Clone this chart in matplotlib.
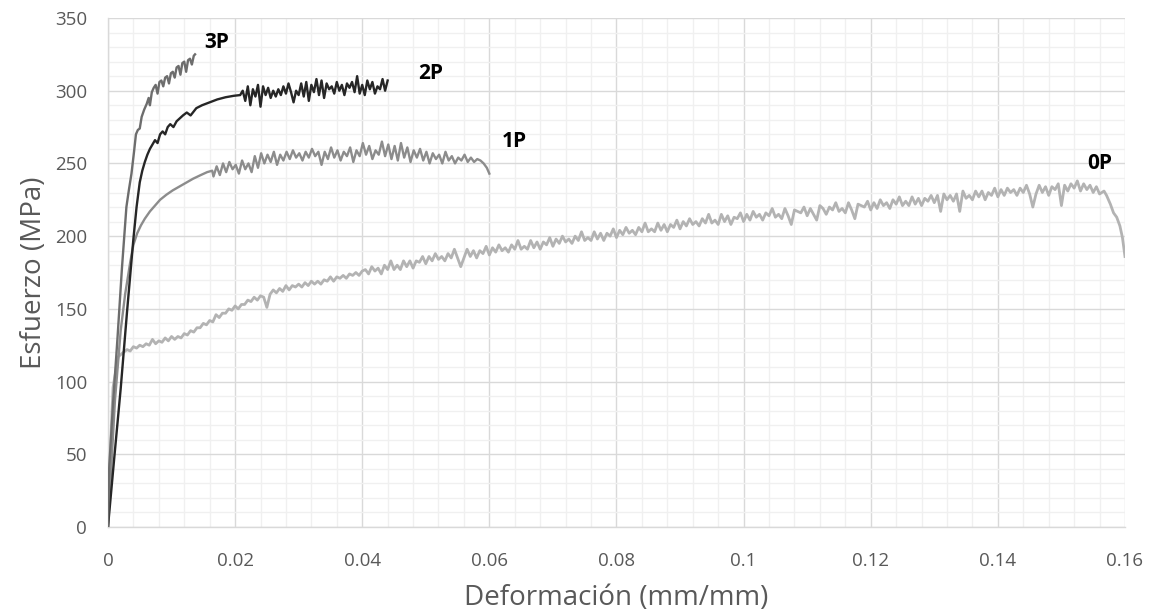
import matplotlib
matplotlib.use("Agg")
import matplotlib.pyplot as plt
from matplotlib.ticker import MultipleLocator

# --- data (strain mm/mm, stress MPa) ---
x_3p = [0, 0.0002, 0.0008, 0.0015, 0.0022, 0.0029, 0.0033, 0.0037, 0.0041, 0.0044,
        0.0047, 0.005, 0.0053, 0.0057, 0.0061, 0.0064, 0.0066, 0.0069, 0.0072, 0.0075,
        0.0078, 0.0081, 0.0084, 0.0087, 0.009, 0.0093, 0.0096, 0.0099, 0.0102, 0.0105,
        0.0108, 0.0111, 0.0114, 0.0117, 0.012, 0.0123, 0.0126, 0.0129, 0.0132, 0.0135,
        0.0137]
y_3p = [0, 41, 85, 130, 178, 220, 232, 243, 258, 270,
        273, 274, 282, 287, 291, 295, 290, 299, 302, 304,
        298, 306, 307, 303, 309, 310, 305, 312, 313, 309,
        316, 317, 311, 319, 320, 313, 321, 322, 318, 324,
        325]

x_2p = [0, 0.001, 0.002, 0.003, 0.004, 0.0045, 0.005, 0.0054, 0.0058, 0.0062,
        0.0066, 0.007, 0.0074, 0.0078, 0.0082, 0.0086, 0.009, 0.0094, 0.0098, 0.0103,
        0.0108, 0.0113, 0.0118, 0.0124, 0.013, 0.0139, 0.0148, 0.016, 0.0172, 0.0185,
        0.0198, 0.0208,
        0.0212, 0.0216, 0.0220, 0.0224, 0.0228, 0.0232, 0.0236, 0.0240, 0.0244, 0.0248,
        0.0252, 0.0256, 0.0260, 0.0264, 0.0268, 0.0272, 0.0276, 0.0280, 0.0284, 0.0288,
        0.0292, 0.0296, 0.0300, 0.0304, 0.0308, 0.0312, 0.0316, 0.0320, 0.0324, 0.0328,
        0.0332, 0.0336, 0.0340, 0.0344, 0.0348, 0.0352, 0.0356, 0.0360, 0.0364, 0.0368,
        0.0372, 0.0376, 0.0380, 0.0384, 0.0388, 0.0392, 0.0396, 0.0400, 0.0404, 0.0408,
        0.0412, 0.0416, 0.0420, 0.0424, 0.0428, 0.0432, 0.0436, 0.0440]
y_2p = [0, 48, 95, 148, 198, 220, 237, 245, 251, 256,
        260, 263, 266, 264, 270, 272, 270, 275, 277, 275,
        279, 281, 283, 285, 283, 288, 290, 292, 294, 295.5,
        296.5, 297,
        300, 293, 303, 290, 301, 296, 304, 289, 303, 297,
        302, 295, 300, 296, 301, 297, 303, 298, 305, 299,
        292, 300, 297, 305, 296, 306, 293, 304, 299, 308,
        297, 307, 295, 305, 301, 303, 298, 306, 300, 304,
        297, 305, 302, 306, 299, 310, 298, 304, 297, 307,
        301, 306, 298, 303, 301, 308, 300, 307]

x_1p = [0, 0.0011, 0.002, 0.0027, 0.0035, 0.004, 0.0046, 0.0052, 0.0058, 0.0066,
        0.0074, 0.0082, 0.0092, 0.0102, 0.0112, 0.0122, 0.0134, 0.0146, 0.0156, 0.0164,
        0.0166, 0.0171, 0.0176, 0.0181, 0.0186, 0.0191, 0.0196, 0.0201, 0.0206, 0.0211,
        0.0216, 0.0221, 0.0226, 0.0231, 0.0236, 0.0241, 0.0246, 0.0251, 0.0256, 0.0261,
        0.0266, 0.0271, 0.0276, 0.0281, 0.0286, 0.0291, 0.0296, 0.0301, 0.0306, 0.0311,
        0.0316, 0.0321, 0.0326, 0.0331, 0.0336, 0.0341, 0.0346, 0.0351, 0.0356, 0.0361,
        0.0366, 0.0371, 0.0376, 0.0381, 0.0386, 0.0391, 0.0396, 0.0401, 0.0406, 0.0411,
        0.0416, 0.0421, 0.0426, 0.0431, 0.0436, 0.0441, 0.0446, 0.0451, 0.0456, 0.0461,
        0.0466, 0.0471, 0.0476, 0.0481, 0.0486, 0.0491, 0.0496, 0.0501, 0.0506, 0.0511,
        0.0516, 0.0521, 0.0526, 0.0531, 0.0536, 0.0541, 0.0546, 0.0551, 0.0556, 0.0561,
        0.0566, 0.0571, 0.0576, 0.0581, 0.0586, 0.0591, 0.0596, 0.0600]
y_1p = [0, 87, 135, 160, 182, 194, 202, 207.5, 212, 217,
        221, 225, 228.5, 231.5, 234, 236.5, 239.5, 242, 244, 245,
        241, 248, 242, 250, 244, 251, 246, 249, 243, 252,
        246, 250, 244, 255, 247, 257, 250, 256, 251, 258,
        249, 256, 252, 258, 253, 259, 254, 257, 252, 258,
        254, 260, 255, 258, 249, 258, 253, 261, 254, 259,
        252, 258, 255, 261, 251, 259, 255, 264, 256, 262,
        253, 259, 256, 265, 255, 263, 253, 262, 252, 264,
        254, 261, 251, 259, 254, 260, 252, 258, 250, 257,
        253, 256, 250, 258, 252, 255, 250, 254, 252, 256,
        251, 254, 251, 253, 252, 250, 247, 243]

x_0p = [0, 0.0001, 0.0003, 0.0008, 0.0016, 0.0024,
        0.0030, 0.0035, 0.0040, 0.0045, 0.0050, 0.0055, 0.0060, 0.0065, 0.0070, 0.0075,
        0.0080, 0.0085, 0.0090, 0.0095, 0.0100, 0.0105, 0.0110, 0.0115, 0.0120, 0.0125,
        0.0130, 0.0135, 0.0140, 0.0145, 0.0150, 0.0155, 0.0160, 0.0165, 0.0170, 0.0175,
        0.0180, 0.0185, 0.0190, 0.0195, 0.0200, 0.0205, 0.0210, 0.0215, 0.0220, 0.0225,
        0.0230, 0.0235, 0.0240, 0.0245, 0.0250, 0.0255, 0.0260, 0.0265, 0.0270, 0.0275,
        0.0280, 0.0285, 0.0290, 0.0295, 0.0300, 0.0305, 0.0310, 0.0315, 0.0320, 0.0325,
        0.0330, 0.0335, 0.0340, 0.0345, 0.0350, 0.0355, 0.0360, 0.0365, 0.0370, 0.0375,
        0.0380, 0.0385, 0.0390, 0.0395, 0.0400, 0.0405, 0.0410, 0.0415, 0.0420, 0.0425,
        0.0430, 0.0435, 0.0440, 0.0445, 0.0450, 0.0455, 0.0460, 0.0465, 0.0470, 0.0475,
        0.0480, 0.0485, 0.0490, 0.0495, 0.0500, 0.0505, 0.0510, 0.0515, 0.0520, 0.0525,
        0.0530, 0.0535, 0.0540, 0.0545, 0.0550, 0.0555, 0.0560, 0.0565, 0.0570, 0.0575,
        0.0580, 0.0585, 0.0590, 0.0595, 0.0600, 0.0605, 0.0610, 0.0615, 0.0620, 0.0625,
        0.0630, 0.0635, 0.0640, 0.0645, 0.0650, 0.0655, 0.0660, 0.0665, 0.0670, 0.0675,
        0.0680, 0.0685, 0.0690, 0.0695, 0.0700, 0.0705, 0.0710, 0.0715, 0.0720, 0.0725,
        0.0730, 0.0735, 0.0740, 0.0745, 0.0750, 0.0755, 0.0760, 0.0765, 0.0770, 0.0775,
        0.0780, 0.0785, 0.0790, 0.0795, 0.0800, 0.0805, 0.0810, 0.0815, 0.0820, 0.0825,
        0.0830, 0.0835, 0.0840, 0.0845, 0.0850, 0.0855, 0.0860, 0.0865, 0.0870, 0.0875,
        0.0880, 0.0885, 0.0890, 0.0895, 0.0900, 0.0905, 0.0910, 0.0915, 0.0920, 0.0925,
        0.0930, 0.0935, 0.0940, 0.0945, 0.0950, 0.0955, 0.0960, 0.0965, 0.0970, 0.0975,
        0.0980, 0.0985, 0.0990, 0.0995, 0.1000, 0.1005, 0.1010, 0.1015, 0.1020, 0.1025,
        0.1030, 0.1035, 0.1040, 0.1045, 0.1050, 0.1055, 0.1060, 0.1065, 0.1070, 0.1075,
        0.1080, 0.1085, 0.1090, 0.1095, 0.1100, 0.1105, 0.1110, 0.1115, 0.1120, 0.1125,
        0.1130, 0.1135, 0.1140, 0.1145, 0.1150, 0.1155, 0.1160, 0.1165, 0.1170, 0.1175,
        0.1180, 0.1185, 0.1190, 0.1195, 0.1200, 0.1205, 0.1210, 0.1215, 0.1220, 0.1225,
        0.1230, 0.1235, 0.1240, 0.1245, 0.1250, 0.1255, 0.1260, 0.1265, 0.1270, 0.1275,
        0.1280, 0.1285, 0.1290, 0.1295, 0.1300, 0.1305, 0.1310, 0.1315, 0.1320, 0.1325,
        0.1330, 0.1335, 0.1340, 0.1345, 0.1350, 0.1355, 0.1360, 0.1365, 0.1370, 0.1375,
        0.1380, 0.1385, 0.1390, 0.1395, 0.1400, 0.1405, 0.1410, 0.1415, 0.1420, 0.1425,
        0.1430, 0.1435, 0.1440, 0.1445, 0.1450, 0.1455, 0.1460, 0.1465, 0.1470, 0.1475,
        0.1480, 0.1485, 0.1490, 0.1495, 0.1500, 0.1505, 0.1510, 0.1515, 0.1520, 0.1525,
        0.1530, 0.1535, 0.1540, 0.1545, 0.1550, 0.1555, 0.1560, 0.1567, 0.1571, 0.1577,
        0.1582, 0.1587, 0.1592, 0.1596, 0.1600]
y_0p = [0, 40, 45, 96, 117, 120,
        122, 121, 124, 123, 125, 124, 126, 125, 129, 126,
        128, 127, 130, 128, 131, 129, 131, 130, 133, 132,
        135, 134, 137, 137, 140, 139, 142, 141, 146, 144,
        147, 147, 150, 149, 152, 150, 153, 153, 156, 155,
        158, 156, 159, 158, 151, 160, 163, 161, 164, 162,
        166, 163, 166, 165, 167, 165, 168, 166, 169, 167,
        169, 167, 170, 169, 172, 169, 172, 171, 173, 171,
        174, 173, 175, 173, 176, 177, 174, 179, 176, 178,
        174, 180, 177, 183, 177, 180, 177, 183, 179, 183,
        178, 183, 182, 186, 181, 186, 183, 188, 184, 186,
        183, 188, 185, 191, 185, 179, 185, 191, 186, 190,
        185, 190, 188, 193, 187, 192, 189, 194, 190, 192,
        189, 194, 191, 197, 191, 193, 191, 197, 192, 196,
        191, 196, 194, 199, 193, 198, 195, 200, 196, 198,
        195, 200, 197, 203, 197, 199, 197, 203, 198, 202,
        197, 202, 200, 205, 199, 204, 201, 206, 202, 204,
        201, 206, 203, 209, 203, 205, 203, 209, 204, 208,
        203, 208, 206, 211, 205, 210, 207, 212, 208, 210,
        207, 212, 209, 215, 209, 211, 208, 215, 210, 214,
        208, 213, 212, 216, 210, 215, 211, 217, 213, 215,
        211, 216, 214, 219, 213, 215, 212, 219, 214, 208,
        218, 217, 216, 220, 214, 219, 215, 211, 221, 219,
        215, 220, 218, 223, 217, 219, 216, 223, 218, 212,
        222, 221, 220, 224, 218, 223, 219, 225, 221, 223,
        219, 225, 222, 227, 221, 224, 221, 227, 222, 226,
        221, 226, 224, 228, 223, 228, 217, 229, 225, 228,
        224, 229, 217, 231, 226, 228, 225, 231, 227, 231,
        225, 230, 228, 233, 227, 232, 228, 233, 230, 232,
        228, 233, 230, 235, 229, 220, 229, 235, 230, 234,
        228, 234, 232, 236, 221, 235, 231, 236, 233, 238,
        231, 236, 232, 235, 230, 234, 229, 231, 228, 222,
        216, 213, 207, 199, 186]

curves = [
    ("0P", x_0p, y_0p, "#b3b3b3", 2.0),
    ("1P", x_1p, y_1p, "#8c8c8c", 1.7),
    ("2P", x_2p, y_2p, "#262626", 1.7),
    ("3P", x_3p, y_3p, "#6d6d6d", 1.7),
]
label_pos = {"3P": (0.0171, 333), "2P": (0.0507, 312), "1P": (0.064, 265), "0P": (0.156, 250)}

plt.rcParams['font.family'] = ['Open Sans', 'DejaVu Sans']

fig = plt.figure(figsize=(11.51, 6.14), dpi=100)
ax = fig.add_axes([0.0938, 0.1417, 0.8836, 0.8290])

for name, xs, ys, col, lw in curves:
    ax.plot(xs, ys, color=col, linewidth=lw, zorder=3)
    lx, ly = label_pos[name]
    ax.text(lx, ly, name, fontsize=15, fontweight='bold', color='black',
            ha='center', va='center', zorder=4)

ax.set_xlim(0, 0.16)
ax.set_ylim(0, 350)
ax.xaxis.set_major_locator(MultipleLocator(0.02))
ax.xaxis.set_minor_locator(MultipleLocator(0.004))
ax.yaxis.set_major_locator(MultipleLocator(50))
ax.yaxis.set_minor_locator(MultipleLocator(10))
ax.set_xticks(ax.get_xticks())
ax.set_xticklabels([f"{v:g}" for v in ax.get_xticks()])
ax.set_xlim(0, 0.16)

ax.grid(which='major', color='#d9d9d9', linewidth=1.0, zorder=0)
ax.grid(which='minor', color='#f0f0f0', linewidth=1.0, zorder=0)
ax.set_axisbelow(True)

for s in ['top', 'right']:
    ax.spines[s].set_visible(False)
for s in ['left', 'bottom']:
    ax.spines[s].set_color('#d9d9d9')
    ax.spines[s].set_linewidth(1.0)

ax.tick_params(which='both', length=0, colors='#595959', labelsize=13.5)
ax.tick_params(axis='y', pad=15)
ax.tick_params(axis='x', pad=18)

ax.set_xlabel("Deformación (mm/mm)", fontsize=20, color='#595959', labelpad=10)
ax.set_ylabel("Esfuerzo (MPa)", fontsize=20, color='#595959', labelpad=5)

fig.savefig("out.png", dpi=100)
